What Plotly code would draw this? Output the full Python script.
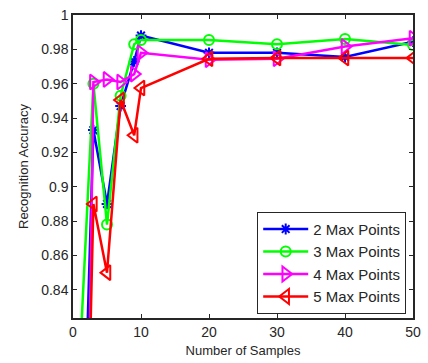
import plotly.graph_objects as go

# Data
x_2 = [2, 3, 5, 7, 9, 10, 20, 30, 40, 50]
y_2 = [0.80, 0.933, 0.890, 0.947, 0.973, 0.988, 0.978, 0.978, 0.9755, 0.9845]

x_3 = [1, 3, 5, 7, 9, 10, 20, 30, 40, 50]
y_3 = [0.80, 0.960, 0.878, 0.953, 0.983, 0.9855, 0.9855, 0.983, 0.986, 0.9826]

x_4 = [2, 3, 5, 7, 9, 10, 20, 30, 40, 50]
y_4 = [0.68, 0.961, 0.9625, 0.961, 0.9656, 0.978, 0.974, 0.9745, 0.9816, 0.9865]

x_5 = [2, 3, 5, 7, 9, 10, 20, 30, 40, 50]
y_5 = [0.72, 0.890, 0.850, 0.9505, 0.930, 0.9575, 0.9745, 0.975, 0.975, 0.975]

names = ["2 Max Points", "3 Max Points", "4 Max Points", "5 Max Points"]
colors = ["#0000FF", "#00FF00", "#FF00FF", "#FF0000"]
symbols = ["asterisk-open", "circle-open", "triangle-right-open", "triangle-left-open"]
sizes = [9, 10, 13, 13]

x_ticks = [0, 10, 20, 30, 40, 50]
y_ticks = [0.84, 0.86, 0.88, 0.90, 0.92, 0.94, 0.96, 0.98, 1.0]
y_ticktext = ["0.84", "0.86", "0.88", "0.9", "0.92", "0.94", "0.96", "0.98", "1"]

fig = go.Figure()
for xs, ys, n, c, s, sz in zip([x_2, x_3, x_4, x_5], [y_2, y_3, y_4, y_5],
                               names, colors, symbols, sizes):
    fig.add_trace(go.Scatter(
        x=xs, y=ys, name=n, mode="lines+markers",
        line=dict(color=c, width=2.5),
        marker=dict(symbol=s, size=sz, color=c, line=dict(color=c, width=2)),
        cliponaxis=True,
    ))

axis_common = dict(
    showline=True, linecolor="#262626", linewidth=1.5, mirror="ticks",
    ticks="inside", ticklen=4, tickcolor="#262626", showgrid=False,
    zeroline=False, tickfont=dict(family="Liberation Sans, Arial", size=14, color="#262626"),
)

fig.update_layout(
    width=428, height=363,
    margin=dict(l=73, r=7, t=15, b=44),
    paper_bgcolor="white", plot_bgcolor="white",
    font=dict(family="Liberation Sans, Arial", size=13, color="#262626"),
    xaxis=dict(range=[0, 50], tickvals=x_ticks,
               title=dict(text="Number of Samples", font=dict(size=13), standoff=7),
               **axis_common),
    yaxis=dict(range=[0.8236, 1.0], tickvals=y_ticks, ticktext=y_ticktext,
               title=dict(text="Recognition Accuracy", font=dict(size=13), standoff=10),
               **axis_common),
    legend=dict(x=0.98, y=0.014, xanchor="right", yanchor="bottom",
                bordercolor="#262626", borderwidth=1, bgcolor="white",
                font=dict(size=15, color="#262626"), tracegroupgap=0,
                itemwidth=45),
    showlegend=True,
)

fig.write_html("out.html")
